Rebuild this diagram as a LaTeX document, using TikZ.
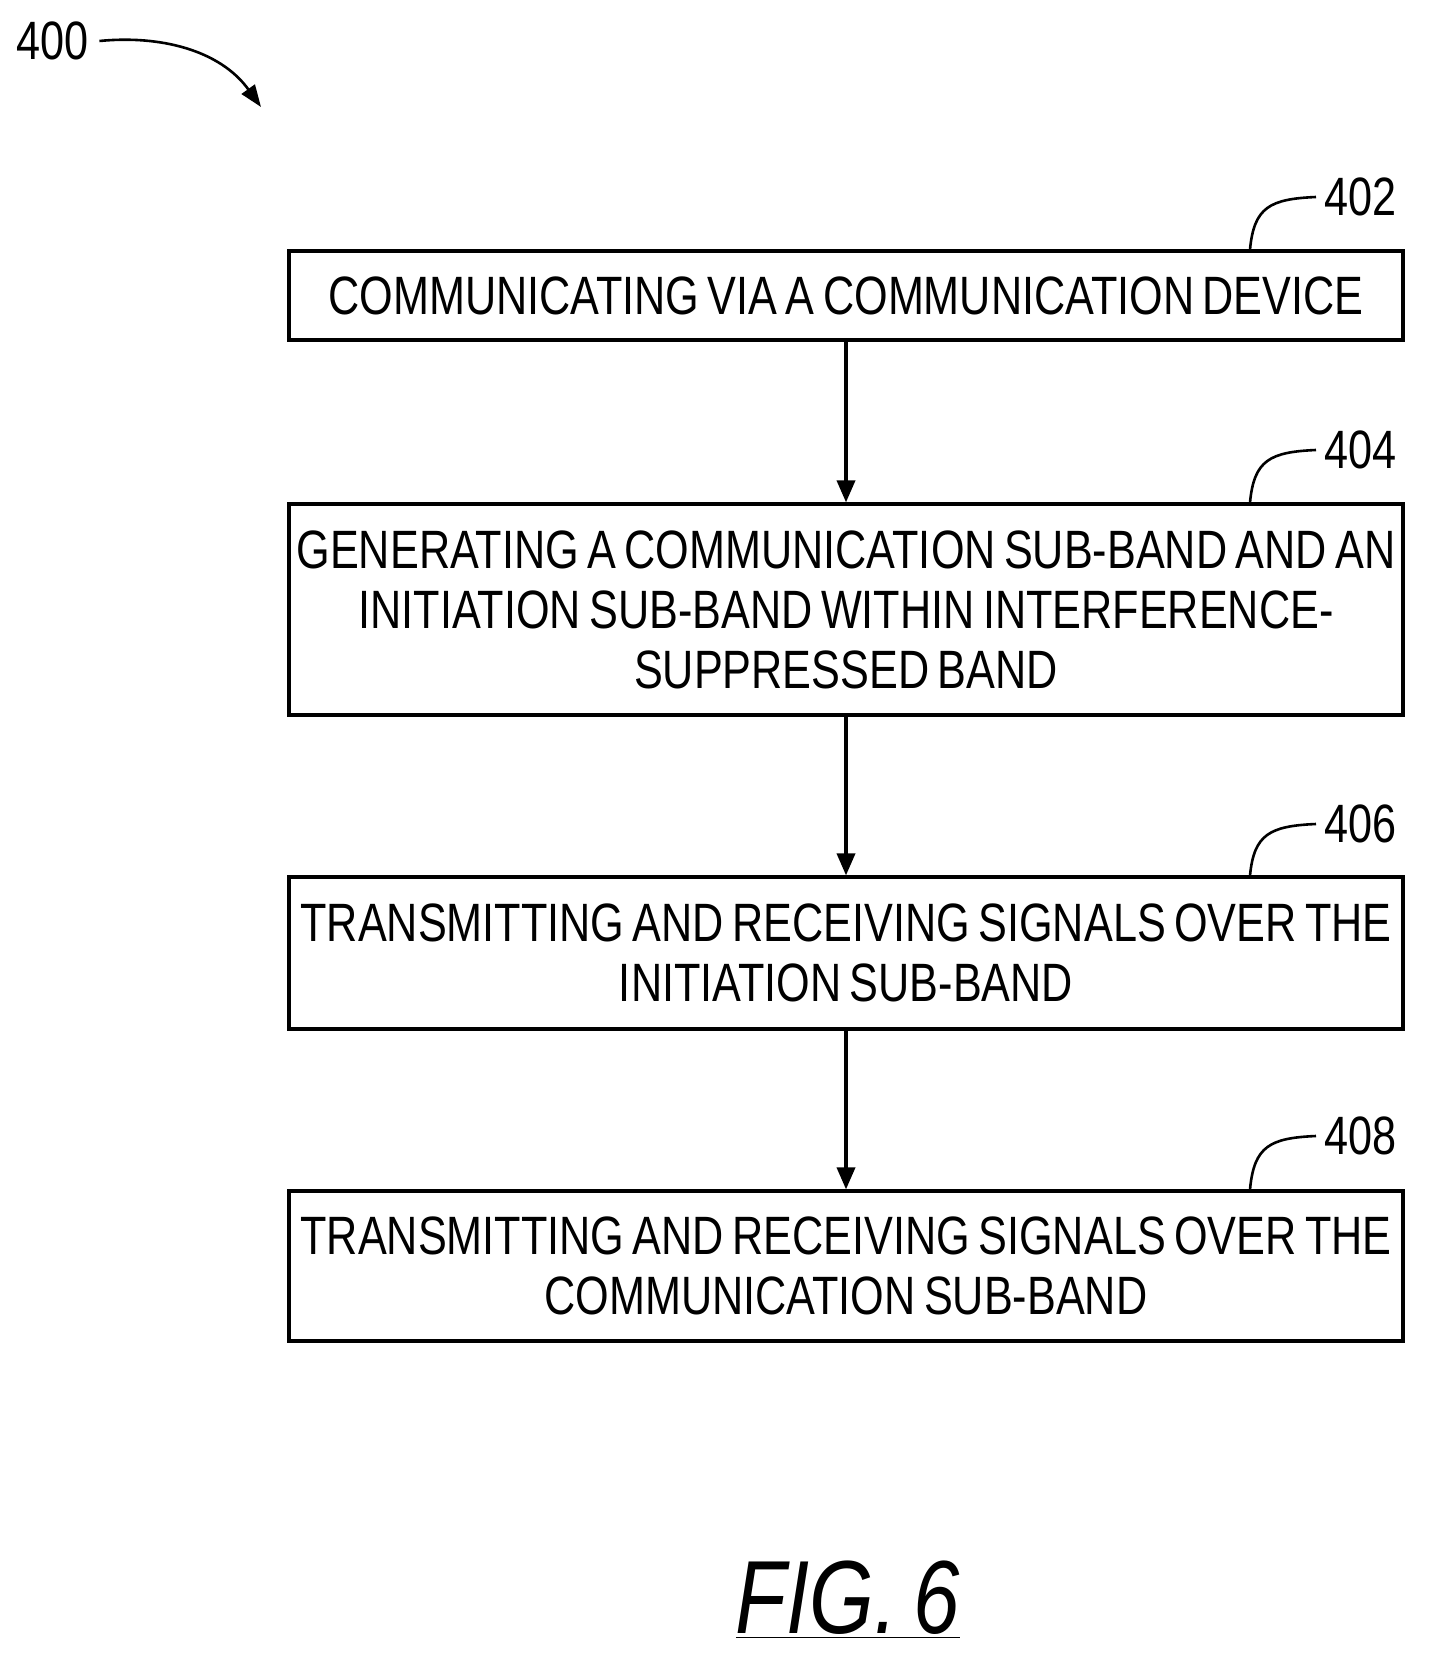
\documentclass[tikz,border=0pt]{standalone}
\usepackage{fontspec}
\setmainfont{Liberation Sans}[FakeStretch=0.8,WordSpace=0.7]
\usetikzlibrary{arrows.meta}
\begin{document}
\begin{tikzpicture}[x=0.5pt,y=-0.5pt,
 box/.style={draw,line width=1.6pt,minimum width=557pt,align=center,font=\fontsize{27}{30}\selectfont,inner sep=0pt},
 lbl/.style={font=\fontsize{27}{30}\selectfont,inner sep=0pt},
 arr/.style={line width=1.8pt,-{Triangle[length=11pt,width=9pt]}}]
\useasboundingbox (0,0) rectangle (1430,1679);
\node[box,minimum height=44.5pt] (b1) at (846,295.5) {COMMUNICATING VIA A COMMUNICATION DEVICE};
\node[box,minimum height=105.5pt] (b2) at (846,609.5) {GENERATING A COMMUNICATION SUB-BAND AND AN\\INITIATION SUB-BAND WITHIN INTERFERENCE-\\SUPPRESSED BAND};
\node[box,minimum height=76pt] (b3) at (846,953) {TRANSMITTING AND RECEIVING SIGNALS OVER THE\\INITIATION SUB-BAND};
\node[box,minimum height=75pt] (b4) at (846,1266) {TRANSMITTING AND RECEIVING SIGNALS OVER THE\\COMMUNICATION SUB-BAND};
\draw[arr] (b1) -- (b2);
\draw[arr] (b2) -- (b3);
\draw[arr] (b3) -- (b4);
\foreach \b/\y/\t in {b1/197/402,b2/450/404,b3/824/406,b4/1136/408}{
  \node[lbl,anchor=west] (l\t) at (1324,\y) {\t};
  \draw[line width=1.3pt] (\b.north -| 1250,0) .. controls (1254,\y+10) and (1270,\y+2) .. ([xshift=-4pt]l\t.west);
}
\node[lbl] (n400) at (53,41) {400};
\coordinate (a400) at (261,107);
\draw[line width=1.3pt,-{Triangle[length=11pt,width=8pt]}] (n400.east)++(10,0) .. controls (160,35) and (220,50) .. (a400);
\node[font=\fontsize{52}{56}\selectfont\itshape,inner sep=0pt] (fig) at (848,1600) {\underline{FIG. 6}};
\end{tikzpicture}
\end{document}
